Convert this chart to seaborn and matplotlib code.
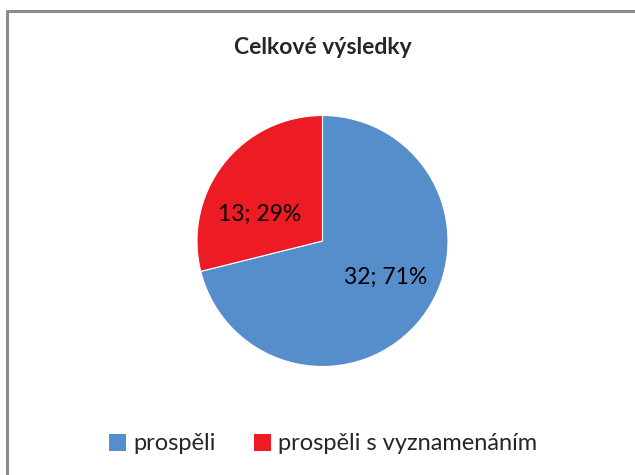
import matplotlib
matplotlib.use("Agg")
import matplotlib.pyplot as plt
from matplotlib.lines import Line2D
from matplotlib.patches import Patch
import seaborn as sns

# data
labels = ["prospěli", "prospěli s vyznamenáním"]
counts = [32, 13]
colors = ["#568DCB", "#ED1C24"]
title = "Celkové výsledky"

sns.set_theme(style="white")
plt.rcParams["font.family"] = ["Lato", "DejaVu Sans"]

W, H = 635, 475
fig = plt.figure(figsize=(W / 100, H / 100), dpi=100)

# pie axes placed so centre ~ (322, 241) px, radius ~125 px
cx, cy, r = 322.5, 241, 125.5
ax = fig.add_axes([(cx - r) / W, (H - cy - r) / H, 2 * r / W, 2 * r / H])

total = sum(counts)
def fmt(p):
    n = int(round(p * total / 100))
    return f"{n}; {p:.0f}%"

wedges, texts, autotexts = ax.pie(
    counts, colors=colors, startangle=90, counterclock=False,
    autopct=fmt, pctdistance=0.55,
    wedgeprops=dict(linewidth=0.8, edgecolor="white"),
    textprops=dict(fontsize=16.5, color="black"))
# Excel-like label placement inside the slices
label_pos = [(0.50, -0.29), (-0.50, 0.21)]
for t, pos in zip(autotexts, label_pos):
    t.set_position(pos)
ax.set_xlim(-1, 1)
ax.set_ylim(-1, 1)
ax.set_aspect("equal")

fig.text(cx / W, 1 - 47 / H, title, ha="center", va="center",
         fontsize=16.5, fontweight="bold")

handles = [Patch(facecolor=c, edgecolor="none") for c in colors]
fig.legend(handles, labels, loc="center", bbox_to_anchor=(323 / W, 1 - 444 / H),
           ncol=2, frameon=False, fontsize=17, handlelength=0.75, handleheight=0.75,
           handletextpad=0.3, columnspacing=1.6)

# chart border (left and top edges visible)
fig.add_artist(Line2D([6.5 / W, 6.5 / W], [0, 1 - 10.5 / H], color="#8c8c8c", lw=2.2,
                      transform=fig.transFigure))
fig.add_artist(Line2D([6.5 / W, 1], [1 - 10.5 / H, 1 - 10.5 / H], color="#8c8c8c", lw=2.2,
                      transform=fig.transFigure))

fig.savefig("out.png", dpi=100)
